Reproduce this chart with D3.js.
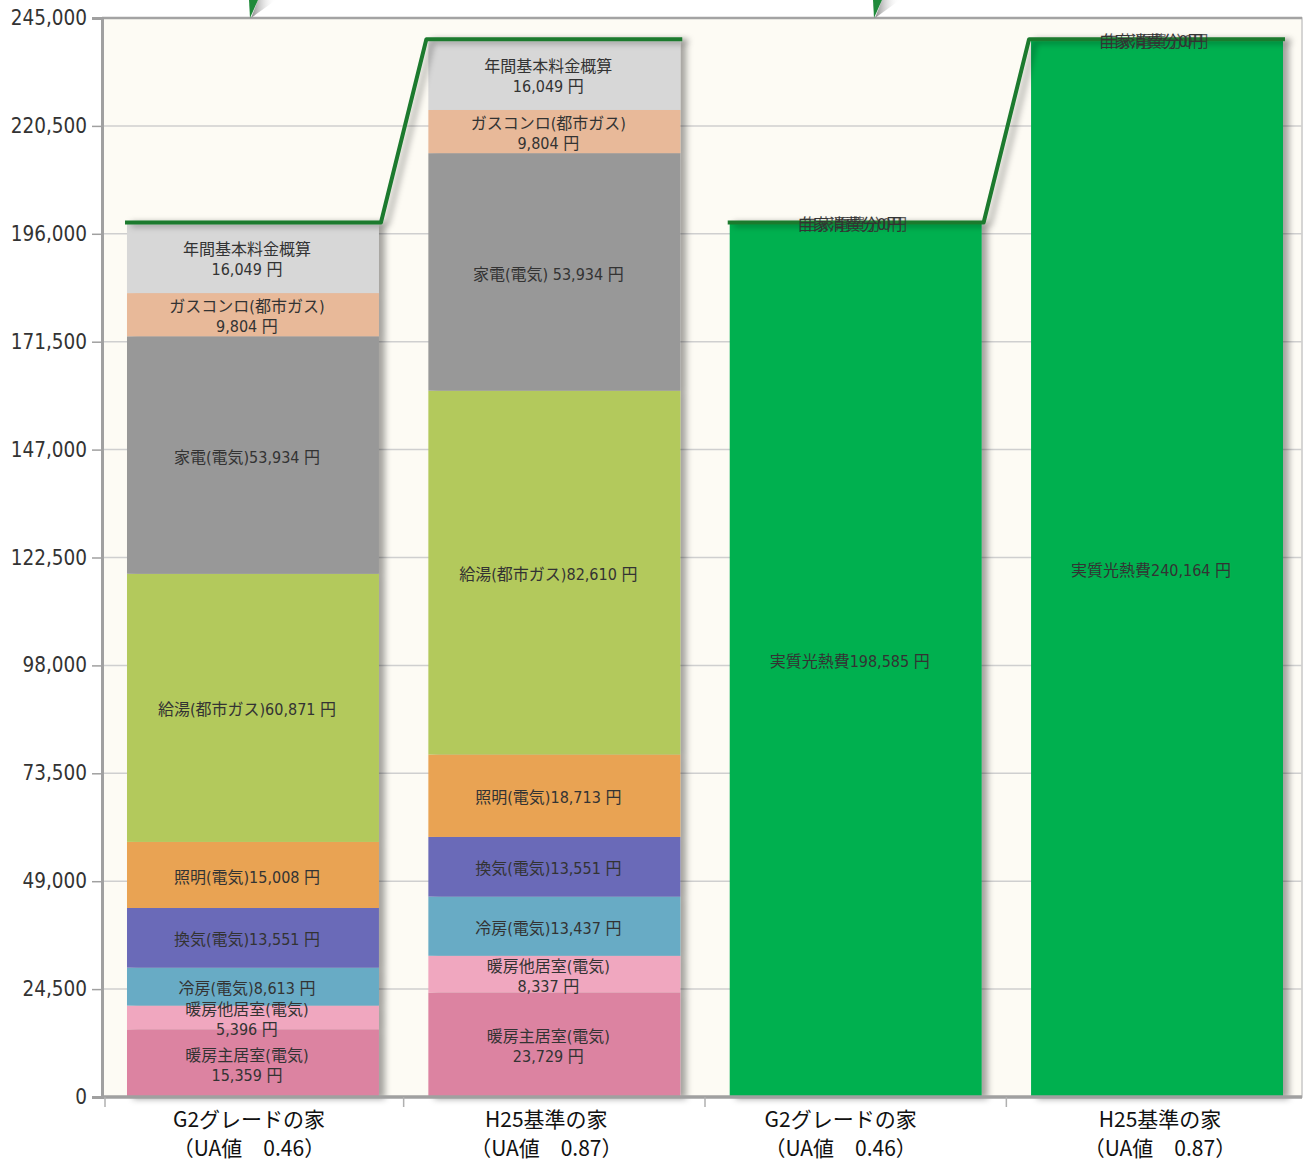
<!DOCTYPE html>
<html>
<head>
<meta charset="utf-8">
<script src="https://cdn.jsdelivr.net/npm/d3@7"></script>
<style>
    body { margin: 0; background: #ffffff; }
    svg { display: block; }
</style>
</head>
<body>
<div id="wrapper"></div>
<script>
// categories (x axis, two lines each)
const categories = ["G2グレードの家", "H25基準の家", "G2グレードの家", "H25基準の家"];
const uaLabels = ["（UA値　0.46）", "（UA値　0.87）", "（UA値　0.46）", "（UA値　0.87）"];

// y axis ticks
const yTicks = [0, 24500, 49000, 73500, 98000, 122500, 147000, 171500, 196000, 220500, 245000];

// series, bottom to top of each column (円)
const seriesKeys = ["暖房主居室", "暖房他居室", "冷房", "換気", "照明", "給湯", "家電", "ガスコンロ", "年間基本料金", "実質光熱費", "自家消費分", "自家電費分"];
const heatingMain  = [15359, 23729, 0, 0];
const heatingOther = [5396, 8337, 0, 0];
const cooling      = [8613, 13437, 0, 0];
const ventilation  = [13551, 13551, 0, 0];
const lighting     = [15008, 18713, 0, 0];
const hotWater     = [60871, 82610, 0, 0];
const appliances   = [53934, 53934, 0, 0];
const gasStove     = [9804, 9804, 0, 0];
const baseCharge   = [16049, 16049, 0, 0];
const netCost      = [0, 0, 198585, 240164];
const selfUse      = [0, 0, 0, 0];
const selfUseB     = [0, 0, 0, 0];

// segment labels
const heatingMainLabels  = ["暖房主居室(電気)\n15,359 円", "暖房主居室(電気)\n23,729 円", "", ""];
const heatingOtherLabels = ["暖房他居室(電気)\n5,396 円", "暖房他居室(電気)\n8,337 円", "", ""];
const coolingLabels      = ["冷房(電気)8,613 円", "冷房(電気)13,437 円", "", ""];
const ventilationLabels  = ["換気(電気)13,551 円", "換気(電気)13,551 円", "", ""];
const lightingLabels     = ["照明(電気)15,008 円", "照明(電気)18,713 円", "", ""];
const hotWaterLabels     = ["給湯(都市ガス)60,871 円", "給湯(都市ガス)82,610 円", "", ""];
const appliancesLabels   = ["家電(電気)53,934 円", "家電(電気) 53,934 円", "", ""];
const gasStoveLabels     = ["ガスコンロ(都市ガス)\n9,804 円", "ガスコンロ(都市ガス)\n9,804 円", "", ""];
const baseChargeLabels   = ["年間基本料金概算\n16,049 円", "年間基本料金概算\n16,049 円", "", ""];
const netCostLabels      = ["", "", "実質光熱費198,585 円", "実質光熱費240,164 円"];
const selfUseLabels      = ["", "", "自家消費分0円", "自家消費分0円"];
const selfUseBLabels     = ["", "", "自家電費分0円", "自家電費分0円"];

const seriesValues = [heatingMain, heatingOther, cooling, ventilation, lighting, hotWater,
    appliances, gasStove, baseCharge, netCost, selfUse, selfUseB];
const seriesLabels = [heatingMainLabels, heatingOtherLabels, coolingLabels, ventilationLabels,
    lightingLabels, hotWaterLabels, appliancesLabels, gasStoveLabels, baseChargeLabels,
    netCostLabels, selfUseLabels, selfUseBLabels];

const seriesColors = ["#dc83a1", "#f0a7bf", "#67abc5", "#6a6ab8", "#e9a352", "#b3c95c",
    "#989898", "#e8b999", "#d7d7d7", "#00b050", "#00b050", "#00b050"];

// pairs of columns joined by the green line
const linkedPairs = [[0, 1], [2, 3]];

// small horizontal nudges of the category captions, as in the original layout
const catLabelShift = [-4, -8, -15, 3];

const labelFont = '"DejaVu Sans Condensed", "Noto Sans CJK JP", sans-serif';
const catFont = '"Noto Sans CJK JP", sans-serif';

function drawChart() {
    const margin = { top: 18, right: 0, bottom: 65, left: 102 };
    const width = 1306;
    const height = 1162;
    const boundedWidth = 1206;
    const frameWidth = 1200;
    const boundedHeight = height - margin.top - margin.bottom;

    const table = categories.map((c, i) => {
        const row = { index: i };
        seriesKeys.forEach((k, j) => row[k] = seriesValues[j][i]);
        return row;
    });
    const stacked = d3.stack().keys(seriesKeys)(table);

    const svg = d3.select("#wrapper")
        .append("svg")
        .attr("width", width)
        .attr("height", height);

    const defs = svg.append("defs");
    defs.append("filter")
        .attr("id", "shadow")
        .attr("x", "-10%").attr("y", "-5%")
        .attr("width", "130%").attr("height", "115%")
        .append("feDropShadow")
        .attr("dx", 6).attr("dy", 2)
        .attr("stdDeviation", 3)
        .attr("flood-color", "#000")
        .attr("flood-opacity", 0.35);
    const grad = defs.append("linearGradient")
        .attr("id", "tipShade")
        .attr("x1", "0%").attr("x2", "100%");
    grad.append("stop").attr("offset", "0%").attr("stop-color", "#8a8a8a");
    grad.append("stop").attr("offset", "100%").attr("stop-color", "#ffffff").attr("stop-opacity", 0);

    const bounds = svg.append("g")
        .attr("transform", `translate(${margin.left},${margin.top})`);

    const xScale = d3.scaleBand()
        .domain(d3.range(categories.length))
        .range([0, boundedWidth])
        .paddingInner(0.164)
        .paddingOuter(0.083);

    const yScale = d3.scaleLinear()
        .domain([0, 245000])
        .range([boundedHeight, 0]);

    // plot background
    bounds.append("rect")
        .attr("width", frameWidth)
        .attr("height", boundedHeight)
        .attr("fill", "#fdfbf4")
        .attr("stroke", "#c8c8c8")
        .attr("stroke-width", 1.5);

    // grid lines
    bounds.append("g")
        .selectAll("line")
        .data(yTicks.filter(d => d > 0 && d < 245000))
        .join("line")
        .attr("x1", 0).attr("x2", frameWidth)
        .attr("y1", d => yScale(d)).attr("y2", d => yScale(d))
        .attr("stroke", "#cfcfcf")
        .attr("stroke-width", 1.5);

    // top frame line
    bounds.append("line")
        .attr("x1", 0).attr("x2", frameWidth)
        .attr("y1", 0).attr("y2", 0)
        .attr("stroke", "#a3a3a3")
        .attr("stroke-width", 2.5);

    // cut off pointer tips coming from above the chart
    const tips = [148, 772];
    tips.forEach(t => {
        bounds.append("path")
            .attr("d", `M${t + 8},${-margin.top} L${t + 26},${-margin.top} L${t + 1},0 Z`)
            .attr("fill", "url(#tipShade)");
        bounds.append("path")
            .attr("d", `M${t - 1},${-margin.top} L${t + 8},${-margin.top} L${t},0 Z`)
            .attr("fill", "#1f8a3a");
    });

    // columns
    const columns = bounds.append("g")
        .selectAll("g")
        .data(categories.map((c, i) => i))
        .join("g")
        .attr("filter", "url(#shadow)");

    columns.selectAll("rect")
        .data(i => stacked.map((s, j) => ({ i, j, y0: s[i][0], y1: s[i][1] })).filter(d => d.y1 > d.y0))
        .join("rect")
        .attr("x", d => xScale(d.i))
        .attr("width", xScale.bandwidth())
        .attr("y", d => yScale(d.y1))
        .attr("height", d => yScale(d.y0) - yScale(d.y1))
        .attr("fill", d => seriesColors[d.j]);

    // green line over the column tops
    const totals = table.map(row => d3.sum(seriesKeys, k => row[k]));
    const lineGenerator = d3.line()
        .x(d => d[0])
        .y(d => yScale(d[1]));
    linkedPairs.forEach(([a, b]) => {
        const points = [
            [xScale(a) - 2, totals[a]],
            [xScale(a) + xScale.bandwidth() + 2, totals[a]],
            [xScale(b) - 2, totals[b]],
            [xScale(b) + xScale.bandwidth() + 2, totals[b]],
        ];
        bounds.append("path")
            .attr("d", lineGenerator(points))
            .attr("fill", "none")
            .attr("stroke", "#1d7a2f")
            .attr("stroke-width", 4)
            .attr("stroke-linejoin", "round")
            .attr("filter", "url(#shadow)");
    });

    // segment labels
    const labelData = [];
    stacked.forEach((s, j) => {
        s.forEach((d, i) => {
            const text = seriesLabels[j][i];
            if (!text) return;
            labelData.push({ i, j, text, mid: (d[0] + d[1]) / 2 });
        });
    });
    const labels = bounds.append("g")
        .selectAll("text")
        .data(labelData)
        .join("text")
        .attr("x", d => xScale(d.i) + xScale.bandwidth() / 2 - 6 + (seriesKeys[d.j] === "自家電費分" ? 5 : 0))
        .attr("y", d => yScale(d.mid) + 2)
        .attr("text-anchor", "middle")
        .attr("font-family", labelFont)
        .attr("font-size", 16)
        .attr("fill", "#333")
        .attr("fill-opacity", d => seriesKeys[d.j] === "自家電費分" ? 0.8 : 1);
    labels.each(function (d) {
        const lines = d.text.split("\n");
        const t = d3.select(this);
        lines.forEach((line, k) => {
            t.append("tspan")
                .attr("x", t.attr("x"))
                .attr("dy", k === 0 ? `${0.35 - (lines.length - 1) * 0.625}em` : "1.25em")
                .text(line);
        });
    });

    // y axis
    const yAxis = bounds.append("g")
        .call(d3.axisLeft(yScale).tickValues(yTicks).tickFormat(d3.format(",")).tickSize(10).tickPadding(5));
    yAxis.select(".domain").attr("stroke", "#a0a0a0").attr("stroke-width", 3);
    yAxis.selectAll(".tick line").attr("stroke", "#a0a0a0").attr("stroke-width", 1.5);
    yAxis.selectAll(".tick text")
        .attr("font-family", labelFont)
        .attr("font-size", 20.5)
        .attr("fill", "#333");

    // x axis
    const xAxis = bounds.append("g")
        .attr("transform", `translate(0,${boundedHeight})`);
    xAxis.append("line")
        .attr("x1", 0).attr("x2", frameWidth)
        .attr("stroke", "#a0a0a0")
        .attr("stroke-width", 3.5);
    const step = xScale.step();
    const boundaries = categories.map((c, i) => i === 0 ? 3 : xScale(i) - (step - xScale.bandwidth()) / 2);
    xAxis.selectAll(".boundary")
        .data(boundaries)
        .join("line")
        .attr("class", "boundary")
        .attr("x1", d => d).attr("x2", d => d)
        .attr("y1", 0).attr("y2", 10)
        .attr("stroke", "#b0b0b0")
        .attr("stroke-width", 1.5);
    const catX = i => xScale(i) + xScale.bandwidth() / 2 + catLabelShift[i];
    const catText = xAxis.selectAll(".cat")
        .data(categories.map((c, i) => i))
        .join("text")
        .attr("class", "cat")
        .attr("x", catX)
        .attr("text-anchor", "middle")
        .attr("font-family", catFont)
        .attr("font-size", 21)
        .attr("fill", "#111");
    catText.append("tspan")
        .attr("x", catX)
        .attr("y", 30)
        .text(i => categories[i]);
    catText.append("tspan")
        .attr("x", catX)
        .attr("y", 59)
        .text(i => uaLabels[i]);
}

drawChart();
</script>
</body>
</html>
